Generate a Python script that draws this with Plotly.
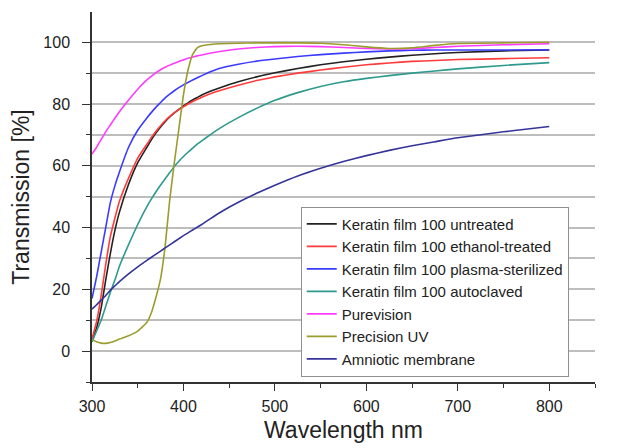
import plotly.graph_objects as go

wavelength = [300, 305, 310, 315, 320, 325, 330, 340, 350, 360, 365, 370, 375, 380,
              385, 390, 395, 400, 405, 410, 415, 420, 430, 440, 460, 480, 500, 525,
              550, 575, 600, 625, 650, 675, 700, 750, 800]

untreated = [3.5, 7.5, 14, 23, 31.5, 39, 45, 54, 61, 66, 68.5, 70.7, 72.6, 74.3,
             75.8, 77.1, 78.3, 79.4, 80.4, 81.3, 82.1, 82.9, 84.2, 85.3, 87.2, 88.8, 90.1, 91.5,
             92.7, 93.7, 94.5, 95.2, 95.8, 96.3, 96.7, 97.2, 97.5]

ethanol = [4, 9.5, 18, 28, 37, 43, 48.5, 56, 62.5, 67, 69.2, 71.2, 73, 74.6,
           76, 77.2, 78.2, 79.1, 80, 80.8, 81.5, 82.2, 83.4, 84.4, 86.1, 87.6, 88.8, 90,
           91, 91.9, 92.7, 93.3, 93.8, 94.1, 94.4, 94.7, 95]

plasma = [17, 24, 32, 40, 48, 53.5, 58, 66, 71.5, 75.5, 77.3, 79, 80.5, 82,
          83.2, 84.3, 85.3, 86.2, 87, 87.8, 88.5, 89.2, 90.5, 91.6, 92.9, 93.9, 94.6, 95.4,
          96, 96.5, 96.9, 97.2, 97.4, 97.5, 97.5, 97.5, 97.6]

autoclaved = [3, 6.5, 10, 14.5, 19, 23, 27.5, 34.5, 41, 46.8, 49.3, 51.6, 53.8, 55.8,
              57.8, 59.8, 61.5, 63, 64.4, 65.7, 67, 68.1, 70.2, 72.2, 75.6, 78.6, 81.2, 83.7,
              85.7, 87.2, 88.3, 89.2, 90, 90.7, 91.4, 92.5, 93.4]

purevision = [63.8, 66, 68.5, 71, 73.2, 75.4, 77.5, 81.3, 84.8, 87.8, 89, 90.2, 91.1, 91.9,
              92.6, 93.2, 93.8, 94.3, 94.8, 95.2, 95.6, 95.9, 96.5, 97, 97.8, 98.3, 98.6, 98.7,
              98.6, 98.3, 98, 97.8, 97.9, 98.3, 98.7, 99.2, 99.5]

precision_uv = [3.8, 3, 2.6, 2.5, 2.8, 3.3, 3.9, 5, 6.5, 9.3, 12.5, 17.5, 23.5, 34,
                49, 61, 72, 83, 91, 96, 98.2, 98.9, 99.3, 99.5, 99.7, 99.8, 99.8, 99.8,
                99.7, 99.2, 98.5, 98, 98.2, 99, 99.6, 99.8, 100]

amniotic = [13.6, 15, 16.5, 18, 19.7, 21.1, 22.5, 25, 27.3, 29.4, 30.4, 31.4, 32.4, 33.4,
            34.4, 35.4, 36.4, 37.4, 38.3, 39.2, 40.1, 41, 43, 44.9, 48.2, 51.1, 53.7, 56.7,
            59.2, 61.4, 63.3, 65, 66.5, 67.8, 69.1, 71, 72.7]

series_names = ["Keratin film 100 untreated", "Keratin film 100 ethanol-treated",
                "Keratin film 100 plasma-sterilized", "Keratin film 100 autoclaved",
                "Purevision", "Precision UV", "Amniotic membrane"]
series_values = [untreated, ethanol, plasma, autoclaved, purevision, precision_uv, amniotic]
series_colors = ["#222222", "#ff3b3b", "#3b3bff", "#2e9a8e", "#ff3bff", "#9c9c2e", "#34349a"]

x_ticks = [300, 400, 500, 600, 700, 800]
y_ticks = [0, 20, 40, 60, 80, 100]

fig = go.Figure()
for name, vals, col in zip(series_names, series_values, series_colors):
    fig.add_trace(go.Scatter(x=wavelength, y=vals, name=name, mode="lines",
                             line=dict(color=col, width=1.6, shape="spline", smoothing=0.4)))

font_family = "Liberation Sans, Arial, sans-serif"
# the page body adds an 8 px offset, so margins are compensated
fig.update_layout(
    width=626, height=448,
    margin=dict(l=84, r=39, t=4, b=74),
    paper_bgcolor="white", plot_bgcolor="white",
    font=dict(family=font_family, color="#222222"),
    showlegend=True,
    legend=dict(x=0.415, y=0.474, xanchor="left", yanchor="top",
                bgcolor="white", bordercolor="#909090", borderwidth=1,
                font=dict(size=15, family=font_family, color="#222222"),
                tracegroupgap=0, itemwidth=30),
)
fig.update_xaxes(
    automargin=False,
    range=[300, 850], tickvals=x_ticks, ticks="outside", ticklen=7, tickwidth=1.2,
    tickcolor="#333333", showline=True, linecolor="#333333", linewidth=1.5,
    showgrid=False, zeroline=False, tickfont=dict(size=16), ticklabelstandoff=2,
    minor=dict(dtick=50, tick0=300, ticks="outside", ticklen=4, tickcolor="#333333", showgrid=False),
    title=dict(text="Wavelength nm", font=dict(size=23), standoff=8),
)
fig.update_yaxes(
    automargin=False,
    range=[-10, 109.8], tickvals=y_ticks, ticks="outside", ticklen=8, tickwidth=1.2,
    tickcolor="#333333", showline=True, linecolor="#333333", linewidth=1.5,
    showgrid=True, gridcolor="#bdbdbd", gridwidth=1.5, zeroline=False,
    tickfont=dict(size=16), ticklabelstandoff=9,
    minor=dict(dtick=10, tick0=-10, ticks="outside", ticklen=4, tickcolor="#333333",
               showgrid=True, gridcolor="#bdbdbd", gridwidth=1.5),
    title=dict(text="Transmission [%]", font=dict(size=23), standoff=12),
)

fig.write_html("out.html")
